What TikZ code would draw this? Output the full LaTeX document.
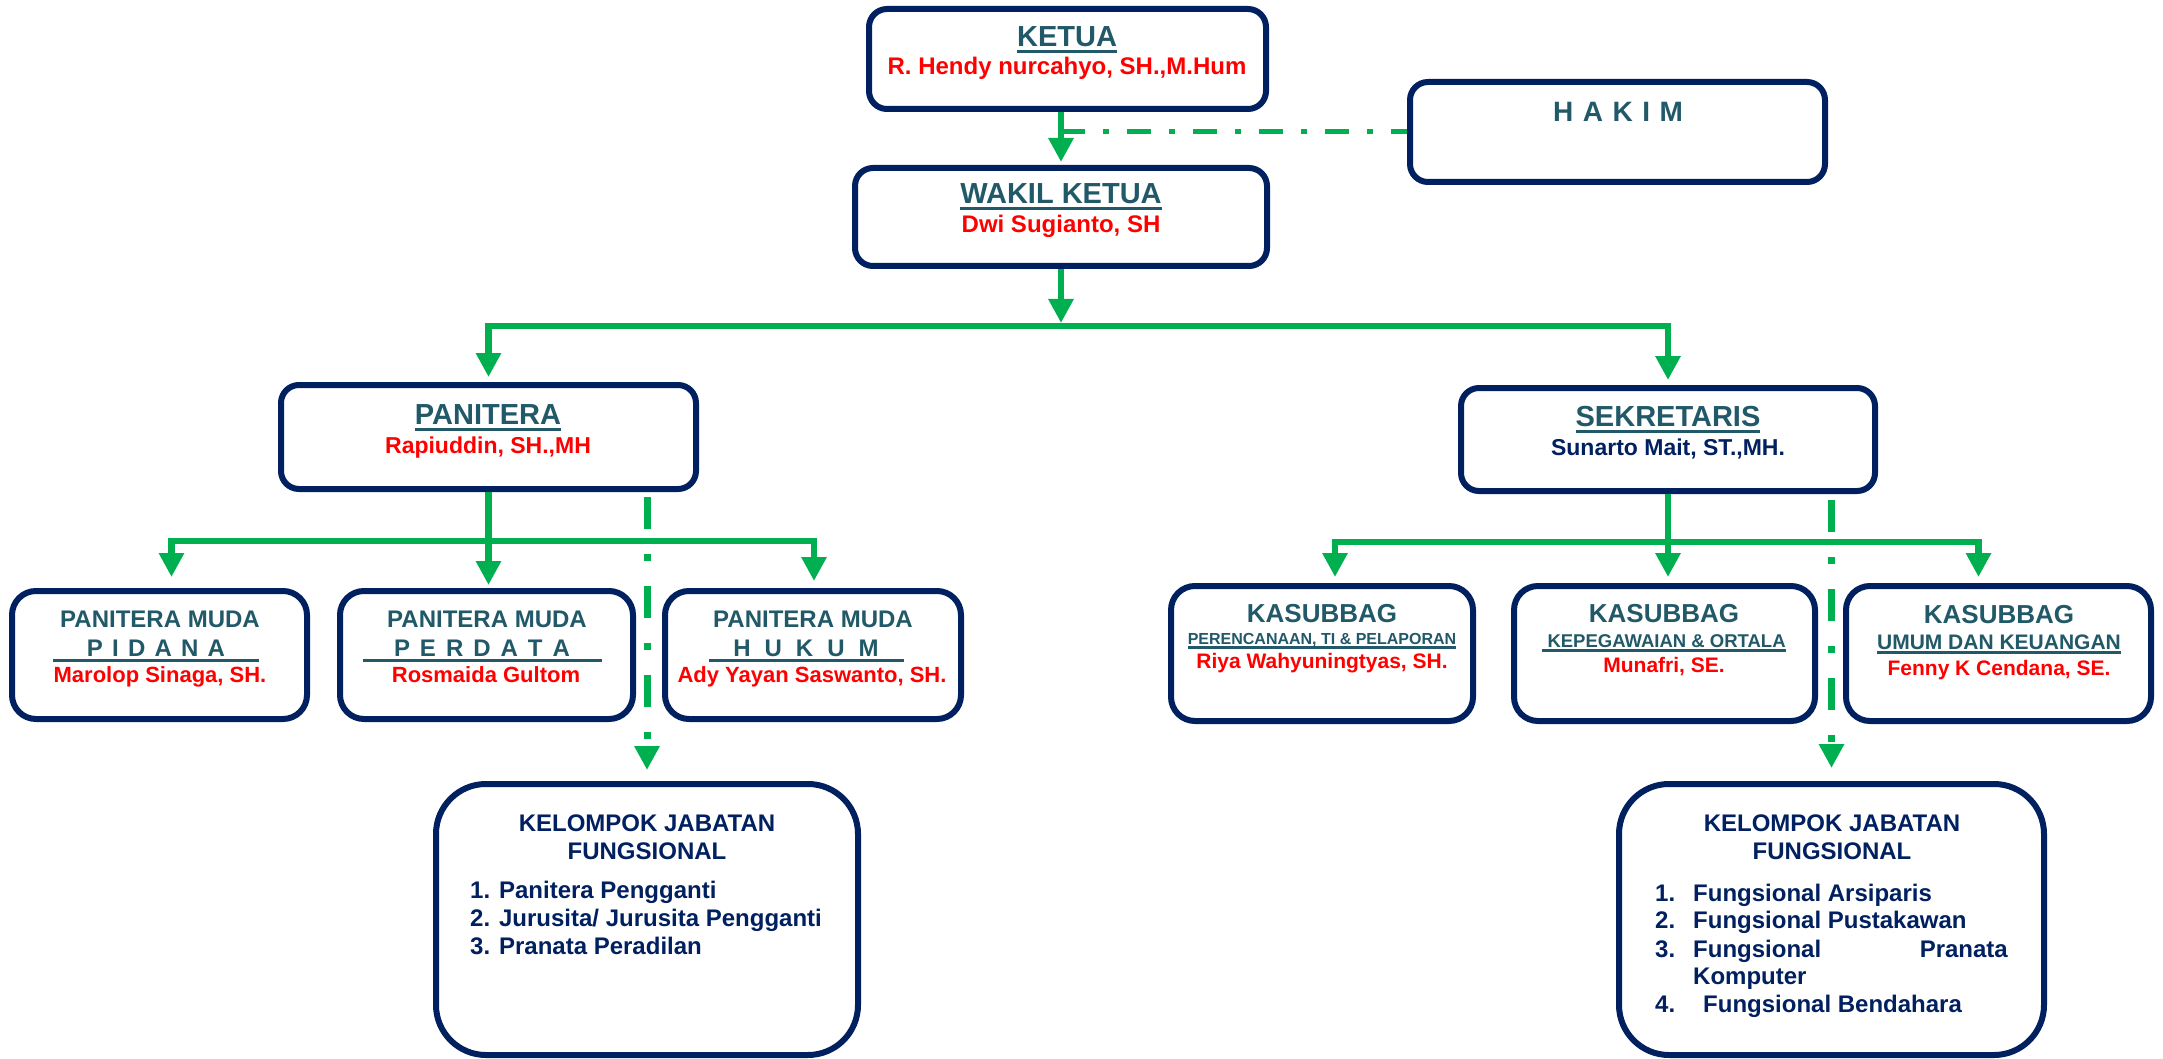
\documentclass[tikz,border=0pt]{standalone}
\usepackage{fontspec}
\setmainfont{Liberation Sans}
\usetikzlibrary{arrows.meta,calc}
\definecolor{navy}{HTML}{002060}
\definecolor{tealt}{HTML}{215968}
\definecolor{grn}{HTML}{00B050}
\definecolor{redn}{HTML}{FF0000}
\newcommand\ulA[1]{\setbox0\hbox{#1}\rlap{\rule[-6.5pt]{\wd0}{3pt}}\box0}
\newcommand\ulB[1]{\setbox0\hbox{#1}\rlap{\rule[-4.5pt]{\wd0}{2.3pt}}\box0}
\newcommand\ulW[2]{\setbox0\hbox to #1{\hss#2\hss}\rlap{\rule[-5.5pt]{#1}{3pt}}\box0}
\tikzset{
  box/.style={draw=navy, line width=6pt, fill=white, rounded corners=#1, inner sep=0pt},
  box/.default=18pt,
  ttl/.style={anchor=base, inner sep=0pt, text=tealt, font=\fontsize{29}{34}\selectfont\bfseries},
  sub/.style={anchor=base, inner sep=0pt, text=tealt, font=\fontsize{#1}{#1}\selectfont\bfseries},
  nm/.style={anchor=base, inner sep=0pt, text=redn, font=\fontsize{#1}{#1}\selectfont\bfseries},
  nv/.style={anchor=base, inner sep=0pt, text=navy, font=\fontsize{#1}{#1}\selectfont\bfseries},
  nvl/.style={nv=24, anchor=base west},
  gline/.style={draw=grn, line width=6.5pt},
  garrow/.style={gline, -{Triangle[length=24pt,width=24pt]}, shorten >=#1},
  garrow/.default=4pt,
  ddash/.style={draw=grn, line width=7pt, dash pattern=on 32pt off 25pt on 7pt off 25pt, -{Triangle[length=24pt,width=24pt]}},
  hdash/.style={draw=grn, line width=5pt, dash pattern=on 24pt off 18pt on 6pt off 18pt}
}
\begin{document}
\begin{tikzpicture}[x=1pt,y=-1pt]
\fill[white] (0,0) rectangle (2163,1059);
\useasboundingbox (0,0) rectangle (2163,1059);

% boxes
\node[box, minimum width=397pt, minimum height=100pt] (ketua) at (1067.5,59) {};
\node[box, minimum width=415pt, minimum height=100pt] (hakim) at (1617.5,132) {};
\node[box, minimum width=412pt, minimum height=98pt] (wakil) at (1061,217) {};
\node[box, minimum width=415pt, minimum height=104pt] (panitera) at (488.5,437) {};
\node[box, minimum width=414pt, minimum height=103pt] (sekretaris) at (1668,439.5) {};
\node[box=24pt, minimum width=295pt, minimum height=128pt] (pidana) at (159.5,655) {};
\node[box=24pt, minimum width=293pt, minimum height=128pt] (perdata) at (486.5,655) {};
\node[box=24pt, minimum width=296pt, minimum height=128pt] (hukum) at (813,655) {};
\node[box=24pt, minimum width=302pt, minimum height=135pt] (kas1) at (1322,653.5) {};
\node[box=24pt, minimum width=301pt, minimum height=135pt] (kas2) at (1664.5,653.5) {};
\node[box=24pt, minimum width=305pt, minimum height=135pt] (kas3) at (1998.5,653.5) {};
\node[box=50pt, minimum width=422pt, minimum height=271pt] (kjfL) at (647,919.5) {};
\node[box=50pt, minimum width=425pt, minimum height=271pt] (kjfR) at (1831.5,919.5) {};

% connectors
\coordinate (busT) at (1061,326);
\coordinate (pbus) at (488.5,541);
\coordinate (sbus) at (1668,542);
\draw[garrow=3pt] (ketua.south -| wakil.north) -- (wakil.north);
\draw[hdash] (wakil.north |- hakim.west) -- (hakim.west);
\draw[garrow=3pt] (wakil.south) -- (busT);
\draw[garrow=5pt] (busT) -| (panitera.north);
\draw[garrow=5pt] (busT) -| (sekretaris.north);
\draw[garrow=3pt] (panitera.south) -- (panitera.south |- perdata.north);
\draw[garrow=11pt] (pbus) -| ([xshift=12pt]pidana.north);
\draw[garrow=7pt] (pbus) -| ([xshift=1pt]hukum.north);
\draw[garrow=6pt] (sekretaris.south) -- (sekretaris.south |- kas2.north);
\draw[garrow=6pt] (sbus) -| ([xshift=13pt]kas1.north);
\draw[garrow=6pt] (sbus) -| ([xshift=-20pt]kas3.north);
\draw[ddash, shorten <=5pt, shorten >=11pt] (kjfL.north |- panitera.south) -- (kjfL.north);
\draw[ddash, shorten <=6pt, shorten >=13pt] (kjfR.north |- sekretaris.south) -- (kjfR.north);

% texts: top
\node[ttl] (ketuaT) at (1067,47) {\ulA{KETUA}};
\node[nm=24] (ketuaN) at (1067,75) {R. Hendy nurcahyo, SH.,M.Hum};
\node[sub=28] (hakimT) at (1618,122) {\spaceskip=9.5pt H A K I M};
\node[ttl] (wakilT) at (1061,204) {\ulA{WAKIL KETUA}};
\node[nm=24] (wakilN) at (1061,233) {Dwi Sugianto, SH};
\node[ttl] (panT) at (488,424) {\ulA{PANITERA}};
\node[nm=23] (panN) at (488,453) {Rapiuddin, SH.,MH};
\node[ttl] (sekT) at (1668,426) {\ulA{SEKRETARIS}};
\node[nv=23] (sekN) at (1668,455) {Sunarto Mait, ST.,MH.};

% panitera muda
\node[sub=24] (pm1T) at (160,627) {PANITERA MUDA};
\node[sub=24] (pm1S) at (156,656) {\ulW{206pt}{\spaceskip=9.2pt P I D A N A}};
\node[nm=22] (pm1N) at (160,682) {Marolop Sinaga, SH.};
\node[sub=24] (pm2T) at (487,627) {PANITERA MUDA};
\node[sub=24] (pm2S) at (482,656) {\ulW{239pt}{\spaceskip=10pt P E R D A T A}};
\node[nm=22] (pm2N) at (486,682) {Rosmaida Gultom};
\node[sub=24] (pm3T) at (813,627) {PANITERA MUDA};
\node[sub=24] (pm3S) at (806,656) {\ulW{195pt}{\spaceskip=14pt H U K U M}};
\node[nm=22] (pm3N) at (812,682) {Ady Yayan Saswanto, SH.};

% kasubbag
\node[sub=26] (k1T) at (1322,622) {KASUBBAG};
\node[sub=16] (k1S) at (1322,644) {\ulB{PERENCANAAN, TI \& PELAPORAN}};
\node[nm=21] (k1N) at (1322,668) {Riya Wahyuningtyas, SH.};
\node[sub=26] (k2T) at (1664,622) {KASUBBAG};
\node[sub=18.5] (k2S) at (1664,647) {\ulB{\ KEPEGAWAIAN \& ORTALA}};
\node[nm=21] (k2N) at (1664,672) {Munafri, SE.};
\node[sub=26] (k3T) at (1999,623) {KASUBBAG};
\node[sub=21] (k3S) at (1999,649) {\ulB{UMUM DAN KEUANGAN}};
\node[nm=21] (k3N) at (1999,675) {Fenny K Cendana, SE.};

% kelompok jabatan fungsional left
\node[nv=24] (jl1) at (647,831) {KELOMPOK JABATAN};
\node[nv=24] (jl2) at (647,859) {FUNGSIONAL};
\node[nvl] (jl3) at (470,898) {1. Panitera Pengganti};
\node[nvl] (jl4) at (470,926) {2. Jurusita/ Jurusita Pengganti};
\node[nvl] (jl5) at (470,954) {3. Pranata Peradilan};

% kelompok jabatan fungsional right
\node[nv=24] (jr1) at (1832,831) {KELOMPOK JABATAN};
\node[nv=24] (jr2) at (1832,859) {FUNGSIONAL};
\node[nvl] (jrn1) at (1655,901) {1.};
\node[nvl] (jrt1) at (1693,901) {Fungsional Arsiparis};
\node[nvl] (jrn2) at (1655,928) {2.};
\node[nvl] (jrt2) at (1693,928) {Fungsional Pustakawan};
\node[nvl] (jrn3) at (1655,957) {3.};
\node[nvl] (jrt3) at (1693,957) {Fungsional};
\node[nv=24, anchor=base east] (jrt3b) at (2008,957) {Pranata};
\node[nvl] (jrt3c) at (1693,984) {Komputer};
\node[nvl] (jrn4) at (1655,1012) {4.};
\node[nvl] (jrt4) at (1703,1012) {Fungsional Bendahara};
\end{tikzpicture}
\end{document}
